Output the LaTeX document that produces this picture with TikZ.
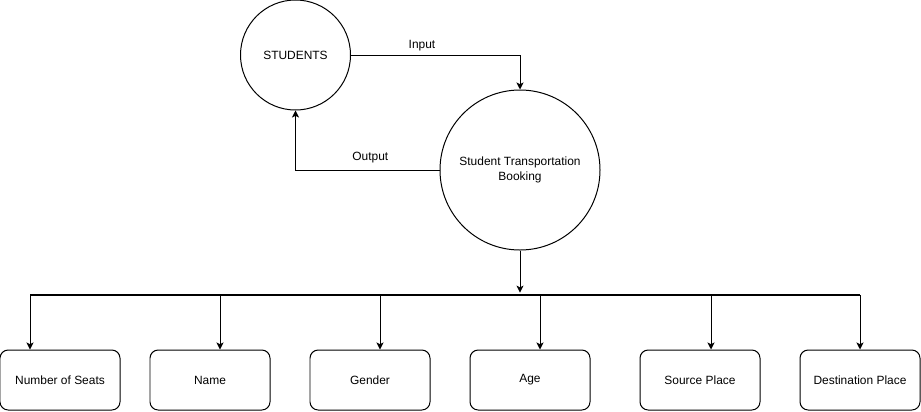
\documentclass[tikz,border=0pt]{standalone}
\usepackage{fontspec}
\setmainfont{Liberation Sans}
\usetikzlibrary{arrows.meta,positioning,calc}

\begin{document}
\begin{tikzpicture}[x=0.03cm, y=-0.03cm, line width=0.85pt,
    >={Stealth[length=6pt,width=6pt,inset=1.5pt]},
    proc/.style={draw, circle, inner sep=0pt, align=center, font=\fontsize{10.2}{12.3}\selectfont},
    field/.style={draw, rounded corners=7pt, minimum width=3.6cm, minimum height=1.8cm,
                  font=\fontsize{10.2}{12.3}\selectfont},
    lbl/.style={font=\fontsize{10.2}{12.3}\selectfont}]
    % 1 unit = 1 px of the reference, y grows downwards
    \useasboundingbox (0,0) rectangle (921,411);

    % --- the two processes ---
    \node[proc, minimum size=3.3cm] (stud) at (295.5,55) {STUDENTS};
    \node[proc, minimum size=4.8cm] (stb) at (520,170) {Student Transportation\\Booking};

    % --- data flows between them ---
    \draw[->] (stud.east) -| node[lbl, pos=0.21, above] {Input} (stb.north);
    \draw[->] (stb.west) -| node[lbl, pos=0.24, above, yshift=2pt] {Output} (stud.south);

    % --- fields below the bus ---
    \coordinate (hub) at (520,295);
    \draw[->, shorten >=2pt] (stb.south) -- (hub);
    \foreach \nm/\cx/\bx/\txt in {seats/60/30/Number of Seats, name/210/220/Name,
                                  gender/370/380/Gender, age/530/540/Age,
                                  src/700/711/Source Place, dest/860/860/Destination Place} {
        \node[field] (\nm) at (\cx,380) {\txt};
        \coordinate (b\nm) at (\bx,295);
        \draw[->] (b\nm) -- (b\nm |- \nm.north);
    }
    \draw[line width=1.7pt] (bseats) -- (bdest);
\end{tikzpicture}
\end{document}
